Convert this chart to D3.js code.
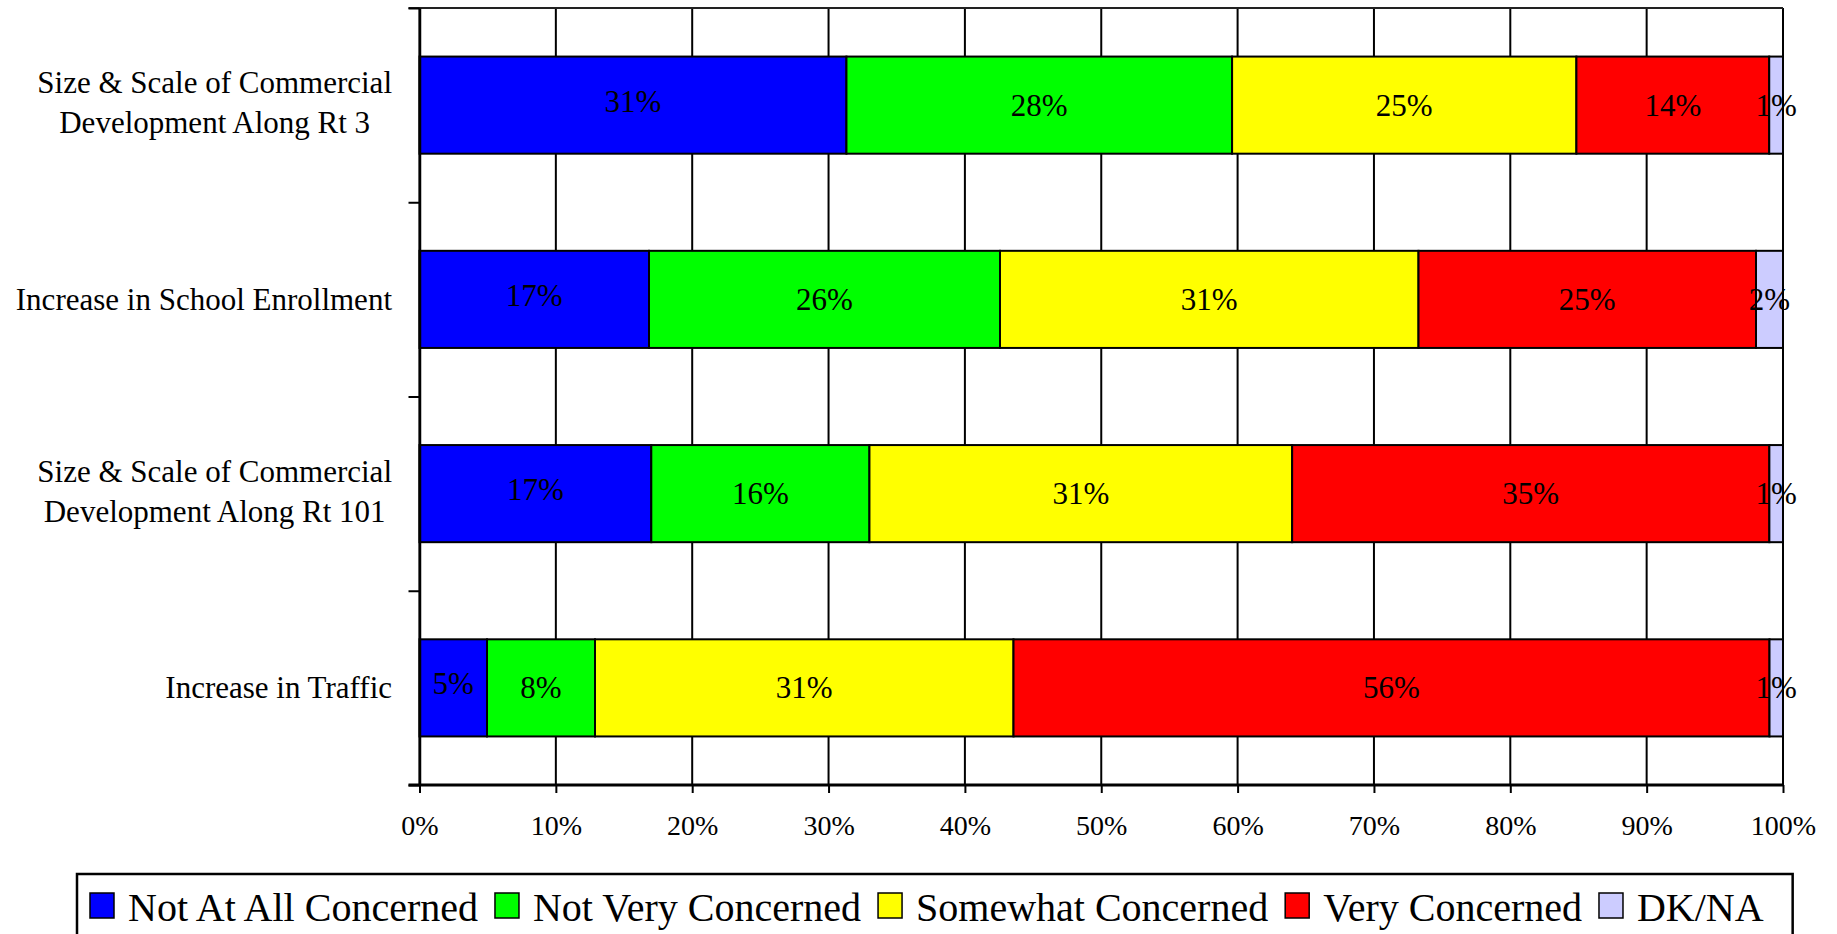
<!DOCTYPE html>
<html>
<head>
<meta charset="utf-8">
<script src="https://cdn.jsdelivr.net/npm/d3@7"></script>
<style>
  html, body { margin: 0; padding: 0; background: #ffffff; }
  svg { display: block; }
  text { font-family: "Liberation Serif", "Times New Roman", serif; fill: #000; }
</style>
</head>
<body>
<svg id="chart" width="1837" height="934"></svg>
<script>
// Survey topics, listed top to bottom
const categories = [
  ["Size & Scale of Commercial", "Development Along Rt 3"],
  ["Increase in School Enrollment"],
  ["Size & Scale of Commercial", "Development Along Rt 101"],
  ["Increase in Traffic"]
];

// Response shares (percent) for each topic, in the same order
const seriesNames = ["Not At All Concerned", "Not Very Concerned", "Somewhat Concerned", "Very Concerned", "DK/NA"];
const notAtAllConcerned = [31, 17, 17, 5];
const notVeryConcerned  = [28, 26, 16, 8];
const somewhatConcerned = [25, 31, 31, 31];
const veryConcerned     = [14, 25, 35, 56];
const dkNa              = [1, 2, 1, 1];
const seriesColors = ["#0000ff", "#00ff00", "#ffff00", "#ff0000", "#ccccff"];

// Axis tick labels
const tickValues = [0, 0.1, 0.2, 0.3, 0.4, 0.5, 0.6, 0.7, 0.8, 0.9, 1];
const tickLabels = ["0%", "10%", "20%", "30%", "40%", "50%", "60%", "70%", "80%", "90%", "100%"];

const seriesValues = [notAtAllConcerned, notVeryConcerned, somewhatConcerned, veryConcerned, dkNa];
const rows = categories.map((c, i) => {
  const r = { key: i, lines: c };
  seriesNames.forEach((s, j) => { r[s] = seriesValues[j][i]; });
  return r;
});

const svg = d3.select("#chart");

const plot = { left: 419.5, right: 1783, top: 8, bottom: 785 };

const x = d3.scaleLinear().domain([0, 1]).range([plot.left, plot.right]);
const y = d3.scaleBand()
  .domain(rows.map(r => r.key))
  .range([plot.top, plot.bottom])
  .paddingInner(0.5)
  .paddingOuter(0.25);
const yEdge = d3.scaleLinear().domain([0, categories.length]).range([plot.top, plot.bottom]);

const color = d3.scaleOrdinal().domain(seriesNames).range(seriesColors);

const stacked = d3.stack().keys(seriesNames).offset(d3.stackOffsetExpand)(rows);

// Vertical gridlines
svg.append("g")
  .selectAll("line")
  .data(tickValues)
  .join("line")
  .attr("x1", d => x(d)).attr("x2", d => x(d))
  .attr("y1", plot.top).attr("y2", plot.bottom)
  .attr("stroke", "#000").attr("stroke-width", 2);

// Top border line
svg.append("line")
  .attr("x1", plot.left - 11).attr("x2", plot.right)
  .attr("y1", plot.top).attr("y2", plot.top)
  .attr("stroke", "#222").attr("stroke-width", 2);

// Stacked bars
const layers = svg.append("g")
  .selectAll("g")
  .data(stacked)
  .join("g")
  .attr("fill", d => color(d.key));

layers.selectAll("rect")
  .data(d => d)
  .join("rect")
  .attr("x", d => x(d[0]))
  .attr("y", d => y(d.data.key))
  .attr("width", d => x(d[1]) - x(d[0]))
  .attr("height", y.bandwidth())
  .attr("stroke", "#000")
  .attr("stroke-width", 2);

// Value labels centred in each segment (first series sits a touch higher)
const valueFont = 31;
const labelLift = { "Not At All Concerned": 4 };
svg.append("g")
  .selectAll("g")
  .data(stacked)
  .join("g")
  .selectAll("text")
  .data(d => d.map(v => ({ v, key: d.key })))
  .join("text")
  .attr("x", d => (x(d.v[0]) + x(d.v[1])) / 2)
  .attr("y", d => y(d.v.data.key) + y.bandwidth() / 2 + valueFont * 0.34 - (labelLift[d.key] || 0))
  .attr("text-anchor", "middle")
  .attr("font-size", valueFont)
  .text(d => d.v.data[d.key] + "%");

// Bottom value axis
const xAxis = svg.append("g")
  .attr("transform", `translate(0,${plot.bottom})`)
  .call(d3.axisBottom(x).tickValues(tickValues).tickFormat((d, i) => tickLabels[i]).tickSize(8).tickSizeOuter(0).tickPadding(22));
xAxis.select(".domain").remove();
xAxis.selectAll(".tick line").attr("stroke", "#000").attr("stroke-width", 2);
xAxis.selectAll(".tick text")
  .attr("font-size", 28)
  .attr("font-family", "Liberation Serif, Times New Roman, serif")
  .attr("fill", "#000")
  .attr("dy", "0.71em");
svg.append("line")
  .attr("x1", plot.left - 11).attr("x2", plot.right)
  .attr("y1", plot.bottom).attr("y2", plot.bottom)
  .attr("stroke", "#000").attr("stroke-width", 3);

// Left category axis with ticks between categories
const yAxis = svg.append("g")
  .attr("transform", `translate(${plot.left},0)`)
  .call(d3.axisLeft(yEdge).tickValues(d3.range(categories.length + 1)).tickFormat("").tickSize(11).tickSizeOuter(0));
yAxis.select(".domain").attr("stroke", "#000").attr("stroke-width", 2.5);
yAxis.selectAll(".tick line").attr("stroke", "#000").attr("stroke-width", 2);

// Category labels
const catFont = 31, lineGap = 40, labelRight = 392;
const catGroups = svg.append("g")
  .selectAll("g")
  .data(rows)
  .join("g");
catGroups.each(function(r) {
  const g = d3.select(this);
  const n = r.lines.length;
  const cy = y(r.key) + y.bandwidth() / 2;
  const texts = g.selectAll("text")
    .data(r.lines)
    .join("text")
    .attr("font-size", catFont)
    .attr("y", (d, i) => cy + catFont * 0.34 + (i - (n - 1) / 2) * lineGap - (n > 1 ? 2.5 : 0))
    .text(d => d);
  let maxW = 0;
  texts.each(function() { maxW = Math.max(maxW, this.getComputedTextLength()); });
  texts.attr("text-anchor", "middle").attr("x", labelRight - maxW / 2);
});

// Legend
const legend = svg.append("g");
const legendBox = legend.append("rect")
  .attr("x", 77).attr("y", 874)
  .attr("height", 90)
  .attr("fill", "#fff")
  .attr("stroke", "#000").attr("stroke-width", 2.5);
let lx = 90;
const legendFont = 40, swatch = 24;
seriesNames.forEach(name => {
  legend.append("rect")
    .attr("x", lx).attr("y", 893)
    .attr("width", swatch).attr("height", 25)
    .attr("fill", color(name))
    .attr("stroke", "#000").attr("stroke-width", 1.5);
  const t = legend.append("text")
    .attr("x", lx + swatch + 14)
    .attr("y", 921)
    .attr("font-size", legendFont)
    .text(name);
  lx += swatch + 14 + t.node().getComputedTextLength() + 17;
});
legendBox.attr("width", lx - 77 + 12);
</script>
</body>
</html>
